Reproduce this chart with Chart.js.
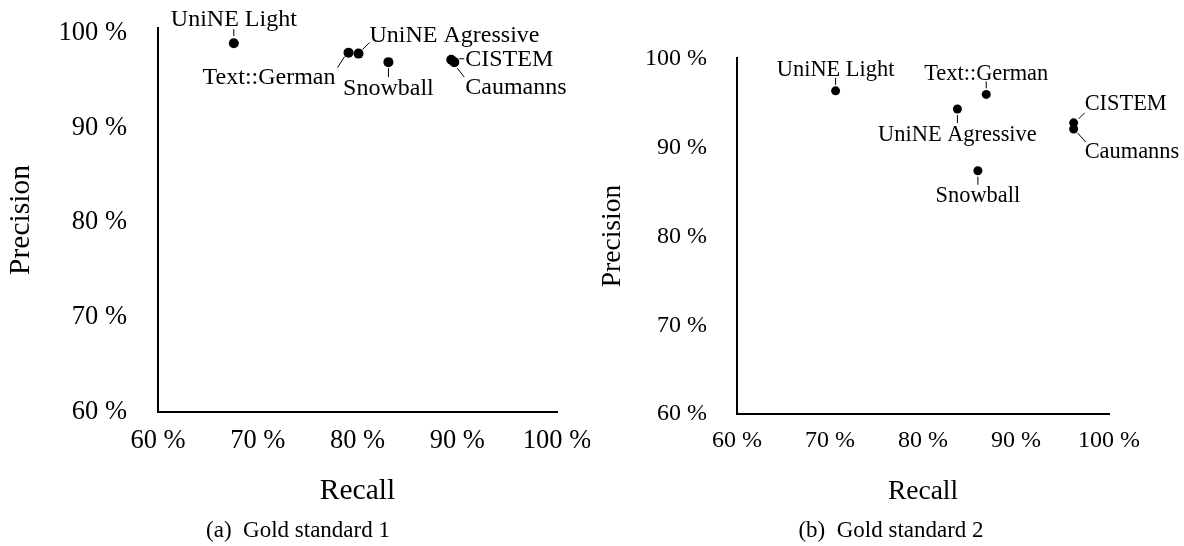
<!DOCTYPE html>
<html>
<head>
<meta charset="utf-8">
<script src="https://cdn.jsdelivr.net/npm/chart.js@4.4.0/dist/chart.umd.min.js"></script>
<style>
  body { margin: 0; background: #fff; width: 1184px; height: 546px; position: relative; overflow: hidden;
         font-family: "Liberation Serif", "Times New Roman", serif; color: #000; }
  .panel { position: absolute; top: 0; }
  .caption { position: absolute; top: 517px; font-size: 23px; line-height: 26px; white-space: nowrap; transform: translateX(-50%); }
</style>
</head>
<body>
<div class="panel" style="left:0"><canvas id="gs1" width="590" height="546"></canvas></div>
<div class="panel" style="left:590px"><canvas id="gs2" width="594" height="546"></canvas></div>
<div class="caption" style="left:298px">(a)&ensp;Gold standard 1</div>
<div class="caption" style="left:891px">(b)&ensp;Gold standard 2</div>

<script>
// Data (in percent)
const stemmers = ['UniNE Light', 'Text::German', 'UniNE Agressive', 'Snowball', 'CISTEM', 'Caumanns'];
const recallGS1 = [67.6, 79.1, 80.1, 83.1, 89.4, 89.7];
const precisionGS1 = [98.9, 97.9, 97.8, 96.9, 97.15, 96.9];
const recallGS2 = [70.6, 86.8, 83.7, 85.9, 96.2, 96.2];
const precisionGS2 = [96.4, 96.0, 94.35, 87.4, 92.8, 92.1];
const tickValues = [60, 70, 80, 90, 100];

// where each label and its leader line go, in px relative to the point
const placeGS1 = {
  'UniNE Light':     { line: [0, -7, 0, -14],  text: [0, -23],  align: 'center' },
  'Text::German':    { line: [-4, 4, -11, 15], text: [-13, 25], align: 'right' },
  'UniNE Agressive': { line: [4, -4, 11, -11], text: [11, -18], align: 'left' },
  'Snowball':        { line: [0, 6, 0, 15],    text: [0, 27],   align: 'center' },
  'CISTEM':          { line: [8, -1, 13, -1],  text: [14, 0],   align: 'left' },
  'Caumanns':        { line: [3, 6, 10, 15],   text: [11, 26],  align: 'left' }
};
const placeGS2 = {
  'UniNE Light':     { line: [0, -6, 0, -13],  text: [0, -21],  align: 'center' },
  'Text::German':    { line: [0, -6, 0, -13],  text: [0, -20],  align: 'center' },
  'UniNE Agressive': { line: [0, 6, 0, 14],    text: [0, 26],   align: 'center' },
  'Snowball':        { line: [0, 6, 0, 14],    text: [0, 25],   align: 'center' },
  'CISTEM':          { line: [5, -4, 11, -10], text: [11, -19], align: 'left' },
  'Caumanns':        { line: [4, 4, 12, 13],   text: [11, 23],  align: 'left' }
};

const SERIF = '"Liberation Serif", "Times New Roman", serif';

/**
 * Draws the stemmer names with short leader lines next to each point
 */
const pointLabels = {
  id: 'pointLabels',
  afterDatasetsDraw(chart, args, opts) {
    const ctx = chart.ctx;
    const meta = chart.getDatasetMeta(0);
    ctx.save();
    ctx.strokeStyle = '#000';
    ctx.fillStyle = '#000';
    ctx.lineWidth = 1;
    ctx.font = opts.size + 'px ' + SERIF;
    ctx.textBaseline = 'middle';
    meta.data.forEach((pt, i) => {
      const p = opts.place[stemmers[i]];
      if (!p) return;
      ctx.beginPath();
      ctx.moveTo(pt.x + p.line[0], pt.y + p.line[1]);
      ctx.lineTo(pt.x + p.line[2], pt.y + p.line[3]);
      ctx.stroke();
      ctx.textAlign = p.align;
      ctx.fillText(stemmers[i], pt.x + p.text[0], pt.y + p.text[1]);
    });
    ctx.restore();
  }
};

function makeChart(id, recall, precision, cfg) {
  const points = recall.map((r, i) => ({ x: r, y: precision[i] }));
  return new Chart(document.getElementById(id), {
    type: 'scatter',
    data: {
      datasets: [{
        data: points,
        pointRadius: cfg.radius,
        pointBackgroundColor: '#000',
        pointBorderWidth: 0,
        clip: false
      }]
    },
    options: {
      responsive: false,
      animation: false,
      devicePixelRatio: 1,
      layout: { padding: cfg.padding },
      plugins: {
        legend: { display: false },
        tooltip: { enabled: false },
        pointLabels: { place: cfg.place, size: cfg.labelSize }
      },
      scales: {
        x: {
          type: 'linear',
          min: 60, max: 100,
          grid: { display: false, drawTicks: false },
          border: { display: true, color: '#000', width: 2 },
          afterBuildTicks: s => { s.ticks = tickValues.map(v => ({ value: v })); },
          ticks: {
            color: '#000', padding: cfg.xTickPad,
            font: { family: SERIF, size: cfg.tickSize },
            callback: v => v + ' %'
          },
          title: {
            display: true, text: 'Recall', color: '#000',
            font: { family: SERIF, size: cfg.titleSize },
            padding: { top: 0, bottom: cfg.xTitlePad }
          },
          afterFit: s => { s.height = cfg.xHeight; s.paddingLeft = 0; s.paddingRight = 0; }
        },
        y: {
          type: 'linear',
          min: 60, max: cfg.yMax,
          grid: { display: false, drawTicks: false },
          border: { display: true, color: '#000', width: 2 },
          afterBuildTicks: s => { s.ticks = tickValues.map(v => ({ value: v })); },
          ticks: {
            color: '#000', padding: cfg.yTickPad,
            font: { family: SERIF, size: cfg.tickSize },
            callback: v => v + ' %'
          },
          title: {
            display: true, text: 'Precision', color: '#000',
            font: { family: SERIF, size: cfg.titleSize },
            padding: { top: cfg.yTitlePad, bottom: 0 }
          },
          afterFit: s => { s.width = cfg.yWidth; s.paddingTop = 0; s.paddingBottom = 0; }
        }
      }
    },
    plugins: [pointLabels]
  });
}

makeChart('gs1', recallGS1, precisionGS1, {
  padding: { left: 0, top: 28, right: 33, bottom: 24 },
  yWidth: 158, xHeight: 110, yMax: 100.5,
  tickSize: 26.5, titleSize: 29.5, labelSize: 24,
  xTickPad: 13, yTickPad: 31, xTitlePad: 13, yTitlePad: 4,
  radius: 5, place: placeGS1
});

makeChart('gs2', recallGS2, precisionGS2, {
  padding: { left: 0, top: 58, right: 75, bottom: 22 },
  yWidth: 147, xHeight: 110, yMax: 100.1,
  tickSize: 24, titleSize: 27.5, labelSize: 22.4,
  xTickPad: 12.5, yTickPad: 30, xTitlePad: 16, yTitlePad: 6,
  radius: 4.5, place: placeGS2
});
</script>
</body>
</html>
